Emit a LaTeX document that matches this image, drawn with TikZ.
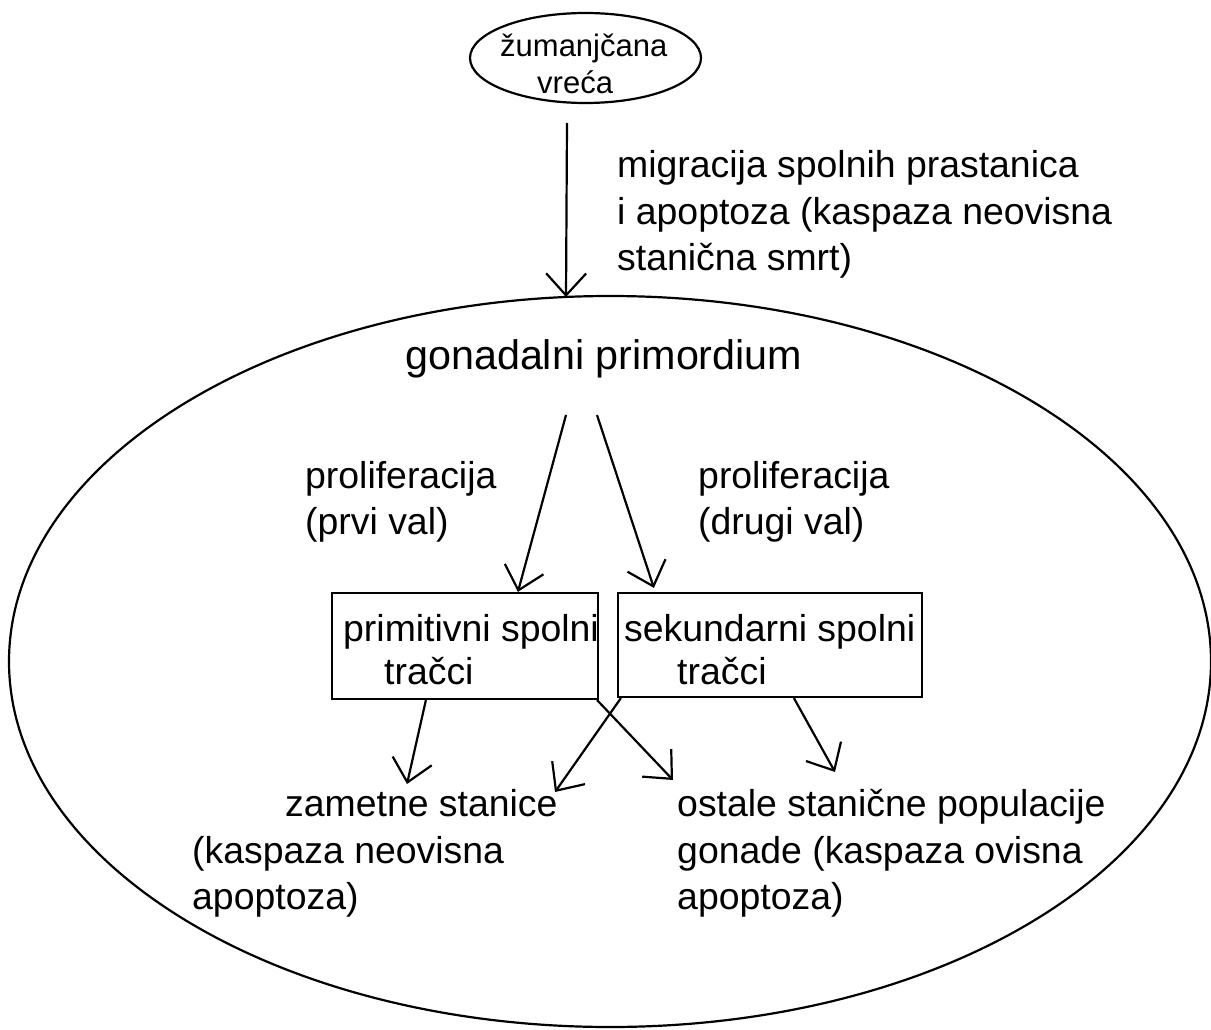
\documentclass[tikz,border=0pt]{standalone}
\usepackage{fontspec}
\setmainfont{Liberation Sans}
\usetikzlibrary{arrows.meta,shapes.geometric}
\begin{document}
\begin{tikzpicture}[x=1pt,y=-1pt,
  lbl/.style={inner sep=0pt,anchor=base west,font=\fontsize{37.4pt}{46pt}\selectfont},
  small/.style={inner sep=0pt,anchor=base west,font=\fontsize{31pt}{38pt}\selectfont},
  big/.style={inner sep=0pt,anchor=base west,font=\fontsize{41.3pt}{50pt}\selectfont},
  arr/.style={line width=2.2pt,-{Straight Barb[length=22pt,width=40pt,line width=2.2pt]}},
  boxstyle/.style={draw,line width=2.2pt,rectangle,inner sep=0pt},
  ellstyle/.style={draw,line width=2.2pt,ellipse,inner sep=0pt}]
\useasboundingbox (0,0) rectangle (1211,1030);
% shapes
\node[ellstyle,minimum width=1202pt,minimum height=731pt] (gonad) at (610,661.5) {};
\node[ellstyle,minimum width=231pt,minimum height=90pt] (yolk) at (585.5,58) {};
\node[boxstyle,minimum width=266pt,minimum height=106pt] (lbox) at (465,646) {};
\node[boxstyle,minimum width=304pt,minimum height=104pt] (rbox) at (770,645) {};
% texts
\node[small] (y1) at (500,57) {žumanjčana};
\node[small] (y2) at (537,94) {vreća};
\node[lbl] (m1) at (617,178) {migracija spolnih prastanica};
\node[lbl] (m2) at (617,224) {i apoptoza (kaspaza neovisna};
\node[lbl] (m3) at (617,270) {stanična smrt)};
\node[big] (gp) at (405,369) {gonadalni primordium};
\node[lbl] (p1) at (305,488) {proliferacija};
\node[lbl] (p2) at (305,534) {(prvi val)};
\node[lbl] (d1) at (698,488) {proliferacija};
\node[lbl] (d2) at (698,534) {(drugi val)};
\node[lbl] (l1) at (343,641) {primitivni spolni};
\node[lbl] (l2) at (384,684) {tračci};
\node[lbl] (r1) at (624,641) {sekundarni spolni};
\node[lbl] (r2) at (677,684) {tračci};
\node[lbl] (z1) at (285,816) {zametne stanice};
\node[lbl] (z2) at (192,863) {(kaspaza neovisna};
\node[lbl] (z3) at (192,909) {apoptoza)};
\node[lbl] (o1) at (677,816) {ostale stanične populacije};
\node[lbl] (o2) at (677,863) {gonade (kaspaza ovisna};
\node[lbl] (o3) at (677,909) {apoptoza)};
% connector ends
\coordinate (ya) at (567,123);
\coordinate (yb) at (566,297);
\coordinate (ga) at (566,415);
\coordinate (gb) at (597,415);
\coordinate (zt) at (407,784);
\coordinate (zx) at (555,792);
\coordinate (ox) at (673,780);
\coordinate (ot) at (835,772);
% connectors
\draw[arr] (ya) -- (yb);
\draw[arr] (ga) -- ([xshift=187pt]lbox.north west);
\draw[arr] (gb) -- ([xshift=37pt,yshift=4pt]rbox.north west);
\draw[arr] ([xshift=95pt]lbox.south west) -- (zt);
\draw[arr] ([xshift=-2pt]lbox.south east) -- (ox);
\draw[arr] ([xshift=4pt]rbox.south west) -- (zx);
\draw[arr] ([xshift=177pt]rbox.south west) -- (ot);
\end{tikzpicture}
\end{document}
